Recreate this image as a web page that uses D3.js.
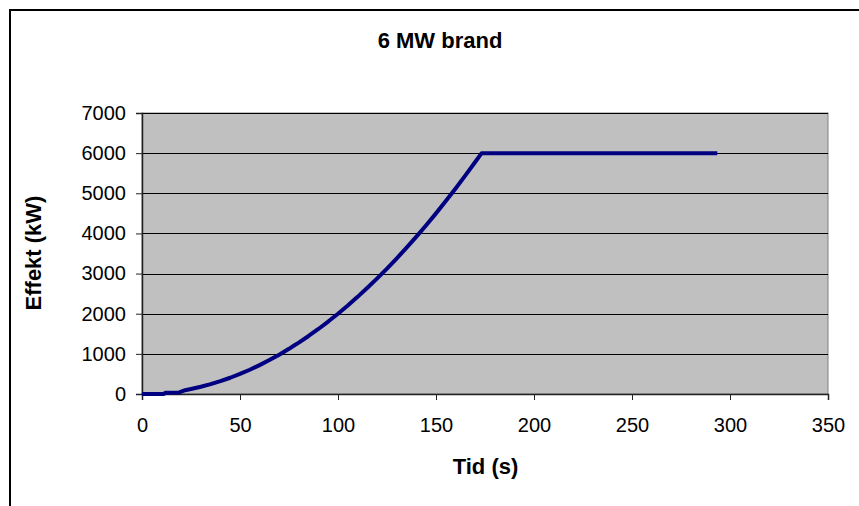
<!DOCTYPE html>
<html><head><meta charset="utf-8">
<script src="https://cdn.jsdelivr.net/npm/d3@7"></script>
<style>body{margin:0;background:#fff}svg{display:block;font-family:"Liberation Sans",Arial,sans-serif}</style>
</head><body><svg id="c" width="859" height="506"></svg>
<script>
const title = "6 MW brand";
const xTitle = "Tid (s)";
const yTitle = "Effekt (kW)";
const xTicks = [0,50,100,150,200,250,300,350];
const yTicks = [0,1000,2000,3000,4000,5000,6000,7000];
const times = [0,11,12,19,22,25,30,35,40,45,50,55,60,65,70,75,78,80,85,90,95,100,105,110,115,120,125,130,135,140,145,150,155,160,165,170,173.3,293.5];
const power = [0,0,30,40,95,125,180,245,320,405,500,605,720,845,980,1125,1220,1280,1445,1620,1805,2000,2205,2420,2645,2880,3125,3380,3645,3920,4205,4500,4805,5120,5445,5780,6000,6000];

const svg = d3.select("#c");
const L=142, R=828, T=113, B=394;
const x = d3.scaleLinear().domain([0,350]).range([L,R]);
const y = d3.scaleLinear().domain([0,7000]).range([B,T]);

svg.append("rect").attr("x",10).attr("y",10).attr("width",900).attr("height",600)
  .attr("fill","#fff").attr("stroke","#000").attr("stroke-width",2);

svg.append("rect").attr("x",L).attr("y",T).attr("width",R-L).attr("height",B-T)
  .attr("fill","#c0c0c0").attr("stroke","#808080").attr("stroke-width",1);

svg.append("g").selectAll("line").data(yTicks.filter(d=>d>0)).join("line")
  .attr("x1",L).attr("x2",R).attr("y1",d=>Math.round(y(d))+0.5).attr("y2",d=>Math.round(y(d))+0.5)
  .attr("stroke","#000").attr("stroke-width",1);

const yAxis = svg.append("g").attr("transform",`translate(${L},0)`)
  .call(d3.axisLeft(y).tickValues(yTicks).tickSize(6).tickPadding(10).tickFormat(d3.format("d")));
const xAxis = svg.append("g").attr("transform",`translate(0,${B})`)
  .call(d3.axisBottom(x).tickValues(xTicks).tickSize(6).tickPadding(14).tickFormat(d3.format("d")));
[yAxis,xAxis].forEach(a=>{
  a.select(".domain").attr("stroke","#222").attr("stroke-width",1.5);
  a.selectAll(".tick line").attr("stroke","#222");
  a.selectAll("text").attr("font-size",20).attr("fill","#000").attr("font-family","Liberation Sans, Arial, sans-serif");
});
xAxis.selectAll("text").attr("dy",null).attr("y",38);

const line = d3.line().x((d,i)=>x(times[i])).y(d=>y(d));
svg.append("path").datum(power).attr("d",line).attr("fill","none")
  .attr("stroke","#000080").attr("stroke-width",4).attr("stroke-linejoin","round");

svg.append("text").attr("x",440).attr("y",48).attr("text-anchor","middle")
  .attr("font-size",22).attr("font-weight","bold").text(title);
svg.append("text").attr("x",485.5).attr("y",474).attr("text-anchor","middle")
  .attr("font-size",22).attr("font-weight","bold").text(xTitle);
svg.append("text").attr("transform","translate(41,253) rotate(-90)").attr("text-anchor","middle")
  .attr("font-size",22).attr("font-weight","bold").text(yTitle);
</script></body></html>
